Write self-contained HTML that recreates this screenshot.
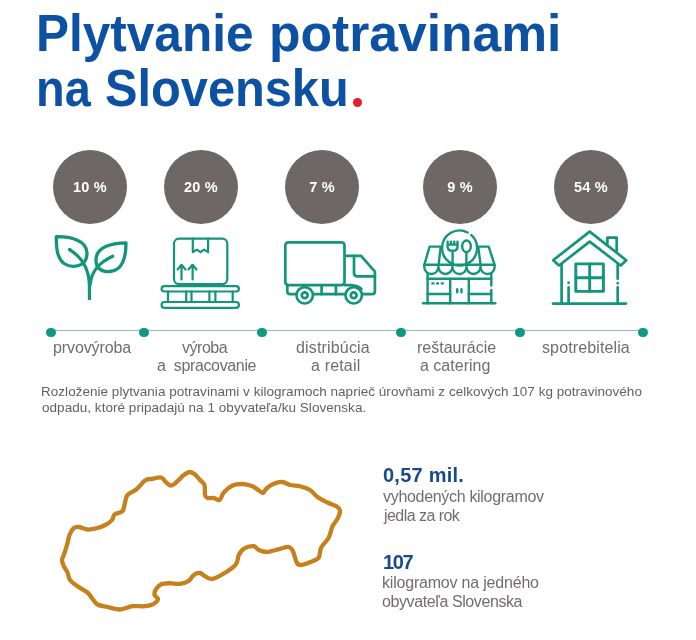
<!DOCTYPE html>
<html lang="sk">
<head>
<meta charset="utf-8">
<title>Plytvanie potravinami na Slovensku</title>
<style>
html,body{margin:0;padding:0;background:#fff;}
body{width:696px;height:640px;position:relative;overflow:hidden;font-family:"Liberation Sans",sans-serif;}
.t{position:absolute;white-space:nowrap;line-height:20px;will-change:transform;}
.g{color:#716d6c;}
.d{color:#646060;}
.b{color:#18498b;}
.h{position:absolute;white-space:nowrap;color:#0c51a4;font-weight:bold;font-size:51.5px;line-height:52px;transform-origin:0 0;}
.c{position:absolute;width:74px;height:74px;border-radius:50%;background:#6d6767;top:150px;color:#fff;font-weight:bold;font-size:14.5px;line-height:74px;text-align:center;letter-spacing:0.2px;will-change:transform;}
.dot{position:absolute;width:9.6px;height:9.6px;border-radius:50%;background:#0d9a80;top:327.5px;}
svg{position:absolute;left:0;top:0;overflow:visible;}
</style>
</head>
<body>
<div class="h" style="left:36.1px;top:7px;transform:scaleX(0.9615)">Plytvanie</div>
<div class="h" style="left:268.5px;top:7px;transform:scaleX(1.0018)">potravinami</div>
<div class="h" style="left:35.8px;top:61.8px;transform:scaleX(0.91)">na</div>
<div class="h" style="left:105.1px;top:61.8px;transform:scaleX(0.946)">Slovensku</div>
<div style="position:absolute;left:352.6px;top:97.8px;width:9.3px;height:9.3px;border-radius:50%;background:#e21f26;"></div>

<div class="c" style="left:53px;">10 %</div>
<div class="c" style="left:164.4px;">20 %</div>
<div class="c" style="left:284.9px;">7 %</div>
<div class="c" style="left:423px;">9 %</div>
<div class="c" style="left:553.6px;">54 %</div>

<div style="position:absolute;left:51px;top:330px;width:592px;height:1px;background:#8ebfb3;"></div>
<div class="dot" style="left:46.4px;"></div>
<div class="dot" style="left:139px;"></div>
<div class="dot" style="left:257.3px;"></div>
<div class="dot" style="left:396.4px;"></div>
<div class="dot" style="left:515.1px;"></div>
<div class="dot" style="left:638.3px;"></div>

<div class="t g" style="left:52.9px;top:337.5px;font-size:16px;font-weight:normal;letter-spacing:-0.11px">prvovýroba</div>
<div class="t g" style="left:182.1px;top:337.5px;font-size:16px;font-weight:normal;letter-spacing:-0.48px">výroba</div>
<div class="t g" style="left:157px;top:355.9px;font-size:16px;font-weight:normal;letter-spacing:-0.35px">a&nbsp; spracovanie</div>
<div class="t g" style="left:296.1px;top:337.5px;font-size:16px;font-weight:normal;letter-spacing:0.17px">distribúcia</div>
<div class="t g" style="left:311px;top:355.9px;font-size:16px;font-weight:normal;letter-spacing:0.17px">a retail</div>
<div class="t g" style="left:416.7px;top:337.5px;font-size:16px;font-weight:normal;letter-spacing:0.0px">reštaurácie</div>
<div class="t g" style="left:420px;top:355.9px;font-size:16px;font-weight:normal;letter-spacing:0.01px">a catering</div>
<div class="t g" style="left:541.7px;top:337.5px;font-size:16px;font-weight:normal;letter-spacing:0.12px">spotrebitelia</div>
<div class="t d" style="left:41px;top:381.7px;font-size:13.5px;font-weight:normal;letter-spacing:0.03px">Rozloženie plytvania potravinami v kilogramoch naprieč úrovňami z celkových 107 kg potravinového</div>
<div class="t d" style="left:42px;top:397.7px;font-size:13.5px;font-weight:normal;letter-spacing:0.04px">odpadu, ktoré pripadajú na 1 obyvateľa/ku Slovenska.</div>
<div class="t b" style="left:383px;top:465.4px;font-size:20px;font-weight:bold;letter-spacing:0.24px">0,57 mil.</div>
<div class="t g" style="left:383px;top:486.7px;font-size:16px;font-weight:normal;letter-spacing:-0.31px">vyhodených kilogramov</div>
<div class="t g" style="left:384px;top:506.4px;font-size:16px;font-weight:normal;letter-spacing:-0.55px">jedla za rok</div>
<div class="t b" style="left:383px;top:552.0px;font-size:20px;font-weight:bold;letter-spacing:-1.35px">107</div>
<div class="t g" style="left:382px;top:572.6px;font-size:16px;font-weight:normal;letter-spacing:-0.2px">kilogramov na jedného</div>
<div class="t g" style="left:382px;top:591.7px;font-size:16px;font-weight:normal;letter-spacing:-0.41px">obyvateľa Slovenska</div>

<svg width="696" height="640" viewBox="0 0 696 640" fill="none" stroke="#12957b" stroke-linecap="round" stroke-linejoin="round">
<!-- plant -->
<g stroke-width="3.3">
<path d="M56.3,236.7C70,236.5 87,240 87,253C87,258 85,261.5 83,263.5C78,267 70,267.5 64,263.5C57,258 56.3,248 56.3,236.7Z"/>
<path d="M126,242.9C112,243 96,247 96,260C96,264 97,266.5 98.5,268C103,272.5 112,273 118,268.5C125,263 126,253 126,242.9Z"/>
<path d="M69.6,249.6C80,256 88.6,266 89.4,284L89.5,300" stroke-linecap="butt"/>
<path d="M69.6,249.6L70,249.9"/>
<path d="M112.7,256.2C100,262 91.4,270 90,285"/>
</g>
<!-- box on pallet -->
<g stroke-width="2.2">
<rect x="174" y="238.7" width="53.3" height="45.4" rx="5"/>
<path d="M192.8,238.7V252.2L196.8,249.6L200.5,252.2L204.1,249.6L208.1,252.2V238.7"/>
<path d="M181.5,279.4V265M177.6,269.5L181.5,264.8L185.5,269.5"/>
<path d="M192.6,279.4V265M188.4,269.5L192.6,264.8L196.5,269.5"/>
<rect x="161.6" y="286.1" width="77.3" height="5.4" rx="2.7"/>
<rect x="161.6" y="302" width="77.3" height="5.8" rx="2.9"/>
<path d="M168,291.5V302M186.2,291.5V302M191.5,291.5V302M209.4,291.5V302M215.4,291.5V302M232.7,291.5V302"/>
</g>
<!-- truck -->
<g stroke-width="2.7">
<rect x="285.3" y="242.4" width="59.2" height="42.7" rx="3"/>
<path d="M344.5,255.8H361.1L374.9,271.6V291.2Q374.9,294.2 371.9,294.2H363"/>
<path d="M354,255.8V273Q354,276.4 357.4,276.4H374.9"/>
<path d="M287.3,285.1V291.2Q287.3,294.2 290.3,294.2H295.5"/>
<path d="M314,294.2H344.5"/>
<path d="M344.5,285.1H351Q358,285.6 361.5,289"/>
<path d="M321.6,285.1V294.2M335.9,285.1V294.2"/>
<circle cx="304.7" cy="295.3" r="8.2"/>
<circle cx="304.7" cy="295.3" r="2.9"/>
<circle cx="353.7" cy="295.3" r="8.2"/>
<circle cx="353.7" cy="295.3" r="2.9"/>
</g>
<!-- shop -->
<g stroke-width="2.4">
<path d="M423,303.3H495.3"/>
<path d="M427.6,274V303.3M491.3,274V285.5M491.3,290V303.3"/>
<path d="M427.6,278.8H491.3"/>
<path d="M450.2,278.8V303.3M468.8,278.8V303.3"/>
<path d="M427.6,294H450.2M468.8,294H491.3"/>
<path d="M457.2,289.3V292.3M461.5,289.3V292.3"/>
<path d="M432.4,283.4H433.4M437.1,283.4H438.1M441.8,283.4H442.8"/>
<path d="M442,246.6H429.6L424.3,264.8H494.6L488.7,246.6H477"/>
<path d="M424.3,264.8V267A7,7 0 0 0 438.4,267V264.8M438.4,267A7,7 0 0 0 452.4,267V264.8M452.4,267A7,7 0 0 0 466.5,267V264.8M466.5,267A7,7 0 0 0 480.5,267V264.8M480.5,267A7,7 0 0 0 494.6,267V264.8"/>
<path d="M440.6,247.5L438.6,264.8M478.3,247.5L480.6,264.8"/>
<path d="M471.4,235.1A17.5,17.5 0 1 1 467.7,232.5"/>
<path d="M447.6,241.6V246.8Q447.6,250.8 452.6,250.8Q457.5,250.8 457.5,246.8V241.6M450.9,241.6V244.5M454.2,241.6V244.5M447.6,244.6H457.5M452.6,250.8V264.8"/>
<ellipse cx="466.5" cy="246.3" rx="4.3" ry="5.8"/>
<path d="M466.4,252.1V264.8"/>
</g>
<!-- house -->
<g stroke-width="2.7">
<path d="M553,303.6H626"/>
<path d="M589.7,231.6L553.2,260.2L559,265.5L589.7,241.6L620.7,265.5L626.2,260.2Z"/>
<path d="M561.6,264.2V303.6M617.7,264.2V278.8M617.7,287.4V303.6M568.6,287.4V303.6"/>
<path d="M568.6,282.7V282.8M617.7,283.2V283.3"/>
<rect x="575.8" y="263.9" width="27.6" height="27.5" stroke-width="2.9"/>
<path d="M589.7,263.9V291.4M575.8,277.7H603.4" stroke-width="2.9"/>
<path d="M607.4,243.6V237.6H616.7V251.5"/>
</g>

<path d="M62.0,560.0C62.0,558.1 62.9,557.5 63.8,555.0C64.6,552.5 66.0,548.3 67.0,545.0C68.0,541.7 68.4,537.8 69.5,535.0C70.6,532.2 72.2,529.3 73.8,528.0C75.3,526.7 76.5,526.8 78.8,527.0C81.0,527.2 84.4,529.3 87.5,529.5C90.6,529.7 94.4,528.8 97.5,528.0C100.6,527.2 103.8,525.8 106.2,524.5C108.7,523.2 110.6,521.7 112.0,520.0C113.4,518.3 112.8,516.0 114.5,514.5C116.2,513.0 120.8,513.2 122.5,511.2C124.2,509.2 124.2,505.2 125.0,502.5C125.8,499.8 125.6,497.2 127.5,495.0C129.4,492.8 133.3,491.9 136.2,489.5C139.2,487.1 142.3,482.3 145.0,480.5C147.7,478.7 149.8,479.2 152.5,478.8C155.2,478.2 159.0,476.9 161.2,477.5C163.5,478.1 164.6,481.2 166.2,482.5C167.9,483.8 169.4,485.7 171.2,485.5C173.1,485.3 175.4,483.0 177.5,481.2C179.6,479.5 181.7,476.5 183.8,475.0C185.8,473.5 188.1,472.1 190.0,472.0C191.9,471.9 193.3,473.2 195.0,474.5C196.7,475.8 198.4,478.2 200.0,480.0C201.6,481.8 203.7,482.5 204.5,485.0C205.3,487.5 204.5,492.8 205.0,495.0C205.5,497.2 206.0,497.5 207.5,498.0C209.0,498.5 211.8,497.7 213.8,498.0C215.8,498.3 217.8,500.9 219.5,500.0C221.2,499.1 221.6,494.9 223.8,492.5C225.9,490.1 229.4,486.9 232.5,485.5C235.6,484.1 239.2,483.9 242.5,484.0C245.8,484.1 249.8,485.2 252.5,486.2C255.2,487.3 257.0,489.4 258.8,490.5C260.5,491.6 261.8,493.3 263.0,493.0C264.2,492.7 264.5,490.3 266.2,488.8C268.0,487.2 271.0,484.9 273.8,483.8C276.5,482.6 279.8,481.8 282.5,482.0C285.2,482.2 287.1,484.3 290.0,485.0C292.9,485.7 296.7,485.4 300.0,486.2C303.3,487.1 307.1,488.2 310.0,490.0C312.9,491.8 314.6,494.9 317.5,497.0C320.4,499.1 324.2,500.8 327.5,502.5C330.8,504.2 335.4,505.5 337.5,507.0C339.6,508.5 340.0,509.3 340.0,511.2C340.0,513.2 338.8,516.2 337.5,518.8C336.2,521.2 334.0,523.1 332.5,526.2C331.0,529.4 330.6,534.0 328.8,537.5C326.9,541.0 322.9,544.2 321.2,547.5C319.6,550.8 320.2,555.2 318.8,557.5C317.3,559.8 315.6,560.0 312.5,561.2C309.4,562.5 302.7,565.0 300.0,565.0C297.3,565.0 297.4,563.5 296.2,561.2C295.1,559.0 294.2,553.6 293.0,551.2C291.8,548.9 290.9,547.4 288.8,547.0C286.6,546.6 283.5,547.9 280.0,548.8C276.5,549.6 271.0,551.8 267.5,552.0C264.0,552.2 261.0,551.0 258.8,550.0C256.5,549.0 256.2,546.5 253.8,546.2C251.2,546.0 246.2,547.3 243.8,548.8C241.2,550.2 240.0,552.5 238.8,555.0C237.5,557.5 238.1,561.0 236.2,563.8C234.4,566.5 231.5,568.8 227.5,571.2C223.5,573.8 216.2,577.9 212.5,578.8C208.8,579.6 207.1,577.2 205.0,576.2C202.9,575.3 201.9,573.2 200.0,573.0C198.1,572.8 195.6,573.7 193.8,575.0C191.9,576.3 191.0,579.3 188.8,580.8C186.5,582.2 183.1,583.3 180.0,583.8C176.9,584.2 173.1,583.2 170.0,583.2C166.9,583.3 163.5,583.3 161.2,584.2C159.0,585.2 157.4,587.0 156.2,588.8C155.1,590.5 154.2,593.3 154.5,595.0C154.8,596.7 158.1,597.3 158.0,598.8C157.9,600.2 155.9,602.5 153.8,603.8C151.6,605.0 148.5,605.8 145.0,606.2C141.5,606.7 136.7,605.7 132.5,606.2C128.3,606.8 124.2,609.4 120.0,609.5C115.8,609.6 111.2,607.8 107.5,607.0C103.8,606.2 100.0,605.9 97.5,604.5C95.0,603.1 94.2,600.8 92.5,598.8C90.8,596.8 90.0,594.6 87.5,592.5C85.0,590.4 80.4,588.3 77.5,586.2C74.6,584.2 71.7,582.3 70.0,580.0C68.3,577.7 68.5,574.8 67.5,572.5C66.5,570.2 64.7,568.3 63.8,566.2C62.8,564.2 62.0,561.9 62.0,560.0Z" stroke="#c6801c" stroke-width="4.3"/>
</svg>
</body>
</html>
